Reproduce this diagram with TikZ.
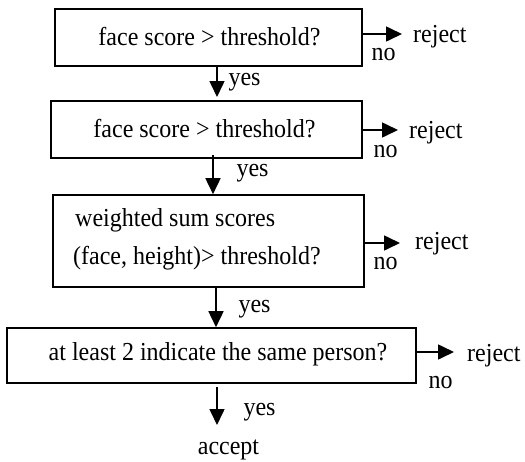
\documentclass[tikz,border=0pt]{standalone}
\usepackage{fontspec}
\setmainfont{Liberation Serif}
\usetikzlibrary{arrows.meta}
\newcommand{\vtxt}[1]{\scalebox{1}[1.08]{#1}}
\begin{document}
\begin{tikzpicture}[x=1pt,y=-1pt,
  box/.style={draw,line width=1.6pt,inner sep=0pt,anchor=center},
  txt/.style={inner sep=0pt,font=\fontsize{24}{28}\selectfont},
  arr/.style={line width=1.6pt,-{Triangle[length=16pt,width=15pt]}}]
\useasboundingbox (0,0) rectangle (525,461);
\node[box,minimum width=307pt,minimum height=57pt] (b1) at (208.5,37.5) {};
\node[box,minimum width=311pt,minimum height=57pt] (b2) at (206.5,129.5) {};
\node[box,minimum width=311pt,minimum height=92pt] (b3) at (208.5,241) {};
\node[box,minimum width=409pt,minimum height=55pt] (b4) at (211.5,355.5) {};
\node[txt] (t1) at (209.5,37) {\vtxt{face score > threshold?}};
\node[txt] (t2) at (204.5,129) {\vtxt{face score > threshold?}};
\node[txt,anchor=west] (t3a) at (75,220) {\vtxt{weighted sum scores}};
\node[txt,anchor=west] (t3b) at (73,258) {\vtxt{(face, height)> threshold?}};
\node[txt] (t4) at (218,354) {\vtxt{at least 2 indicate the same person?}};
% reject nodes
\node[txt,anchor=west] (r1) at (413,37) {\vtxt{reject}};
\node[txt,anchor=west] (r2) at (409,133) {\vtxt{reject}};
\node[txt,anchor=west] (r3) at (415,244) {\vtxt{reject}};
\node[txt,anchor=west] (r4) at (467,356) {\vtxt{reject}};
\node[txt] (n1) at (383.5,55) {\vtxt{no}};
\node[txt] (n2) at (385.5,152) {\vtxt{no}};
\node[txt] (n3) at (385.5,264) {\vtxt{no}};
\node[txt] (n4) at (440.5,383) {\vtxt{no}};
\node[txt] (y1) at (244.5,82) {\vtxt{yes}};
\node[txt] (y2) at (252.5,173) {\vtxt{yes}};
\node[txt] (y3) at (254.5,309) {\vtxt{yes}};
\node[txt] (y4) at (259.5,412) {\vtxt{yes}};
\node[txt] (acc) at (228.5,450) {\vtxt{accept}};
% coordinates for connector ends
\coordinate (c1) at (402,34);
\coordinate (c2) at (398,130);
\coordinate (c3) at (400,243);
\coordinate (c4) at (454,352);
\coordinate (a1) at (217,97);
\coordinate (a2) at (213,195);
\coordinate (a3) at (216,327);
\coordinate (a4) at (217,425);
\coordinate (s2) at (213,155);
\coordinate (s4) at (217,387);
% connectors
\draw[arr] (b1.south -| a1) -- (a1);
\draw[arr] (s2) -- (b3.north -| a2);
\draw[arr] (b3.south -| a3) -- (b4.north -| a3);
\draw[arr] (s4) -- (a4);
\draw[arr] (b1.east |- c1) -- (c1);
\draw[arr] (b2.east |- c2) -- (c2);
\draw[arr] (b3.east |- c3) -- (c3);
\draw[arr] (b4.east |- c4) -- (c4);
\end{tikzpicture}
\end{document}
